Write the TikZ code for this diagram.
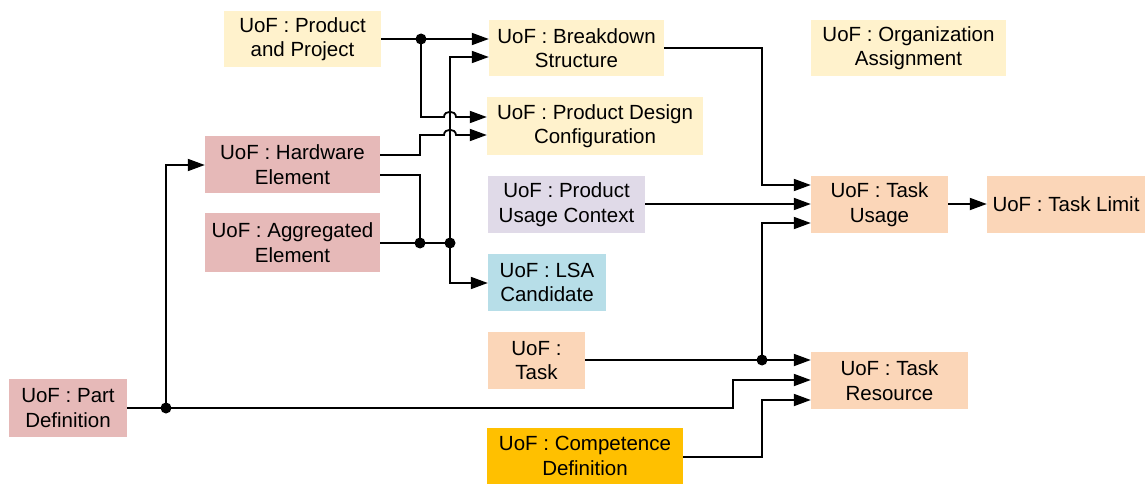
\documentclass[tikz,border=0pt]{standalone}
\usepackage{fontspec}
\setmainfont{Liberation Sans}
\usetikzlibrary{arrows.meta}
\definecolor{cyel}{HTML}{FFF2CC}
\definecolor{cpink}{HTML}{E6B9B8}
\definecolor{clav}{HTML}{E0DAE8}
\definecolor{cblue}{HTML}{B7DEE8}
\definecolor{cpeach}{HTML}{FBD6B8}
\definecolor{cgold}{HTML}{FFC000}
\tikzset{
  box/.style={inner sep=0pt, align=center, font=\fontsize{20.5}{24.5}\selectfont},
  conn/.style={line width=1.8pt, line join=miter},
  arr/.style={conn, -{Triangle[length=17pt,width=12pt]}},
  dot/.style={circle, fill=black, inner sep=0pt, minimum size=11pt}
}
\begin{document}
\begin{tikzpicture}[x=1pt,y=-1pt]
\useasboundingbox (0,0) rectangle (1146,484);
% boxes
\node[box, fill=cyel, minimum width=157pt, minimum height=56pt] (pp) at (302.5,39) {UoF : Product\\and Project};
\node[box, fill=cyel, minimum width=175pt, minimum height=56pt] (bs) at (576.5,48) {UoF : Breakdown\\Structure};
\node[box, fill=cyel, minimum width=195pt, minimum height=56pt] (oa) at (908.5,48) {UoF : Organization\\Assignment};
\node[box, fill=cyel, minimum width=216pt, minimum height=58pt] (pdc) at (595,126) {UoF : Product Design\\Configuration};
\node[box, fill=cpink, minimum width=175pt, minimum height=57pt] (hw) at (292.5,164.5) {UoF : Hardware\\Element};
\node[box, fill=cpink, minimum width=175pt, minimum height=59pt] (ae) at (292.5,242.5) {UoF : Aggregated\\Element};
\node[box, fill=clav, minimum width=157pt, minimum height=57pt] (puc) at (566.5,204.5) {UoF : Product\\Usage Context};
\node[box, fill=cpeach, minimum width=137pt, minimum height=57pt] (tu) at (879.5,204.5) {UoF : Task\\Usage};
\node[box, fill=cpeach, minimum width=158pt, minimum height=57pt] (tl) at (1066,204.5) {UoF : Task Limit};
\node[box, fill=cblue, minimum width=118pt, minimum height=57pt] (lsa) at (547,282.5) {UoF : LSA\\Candidate};
\node[box, fill=cpeach, minimum width=97pt, minimum height=57pt] (task) at (536.5,360.5) {UoF :\\Task};
\node[box, fill=cpeach, minimum width=157pt, minimum height=57pt] (tr) at (889.5,380.5) {UoF : Task\\Resource};
\node[box, fill=cpink, minimum width=118pt, minimum height=58pt] (pd) at (68,408) {UoF : Part\\Definition};
\node[box, fill=cgold, minimum width=196pt, minimum height=56pt] (cd) at (585,456) {UoF : Competence\\Definition};
% junctions
\coordinate (j1) at (421,39);
\coordinate (j2) at (420,243);
\coordinate (j3) at (450,243);
\coordinate (j4) at (762,360);
\coordinate (j5) at (166,408);
% product and project
\draw[arr] (pp.east |- j1) -- (j1) -- (bs.west |- j1);
\draw[arr] (j1) -- (421,117) -- (444,117) .. controls (444,110) and (456,110) .. (456,117) -- (pdc.west |- 0,117);
% hardware element
\draw[arr] (hw.east |- 0,155) -- (420,155) -- (420,135) -- (444,135) .. controls (444,128) and (456,128) .. (456,135) -- (pdc.west |- 0,135);
\draw[conn] (hw.east |- 0,175) -- (420,175) -- (j2);
% aggregated element
\draw[conn] (ae.east |- j2) -- (j2) -- (j3);
\draw[arr] (j3) -- (450,57) -- (bs.west |- 0,57);
\draw[arr] (j3) -- (450,283) -- (lsa.west |- 0,283);
% breakdown -> task usage
\draw[arr] (bs.east) -- (762,48) -- (762,185) -- (tu.west |- 0,185);
% product usage context -> task usage
\draw[arr] (puc.east |- 0,204) -- (tu.west |- 0,204);
% task
\draw[arr] (task.east |- j4) -- (j4) -- (tr.west |- j4);
\draw[arr] (j4) -- (762,223) -- (tu.west |- 0,223);
% part definition
\draw[arr] (pd.east |- j5) -- (j5) -- (733,408) -- (733,380) -- (tr.west |- 0,380);
\draw[arr] (j5) -- (166,165) -- (hw.west |- 0,165);
% competence
\draw[arr] (cd.east |- 0,457) -- (762,457) -- (762,400) -- (tr.west |- 0,400);
% task usage -> task limit
\draw[arr] (tu.east |- 0,204) -- (tl.west |- 0,204);
% dots
\foreach \j in {j1,j2,j3,j4,j5} \node[dot] at (\j) {};
\end{tikzpicture}
\end{document}
